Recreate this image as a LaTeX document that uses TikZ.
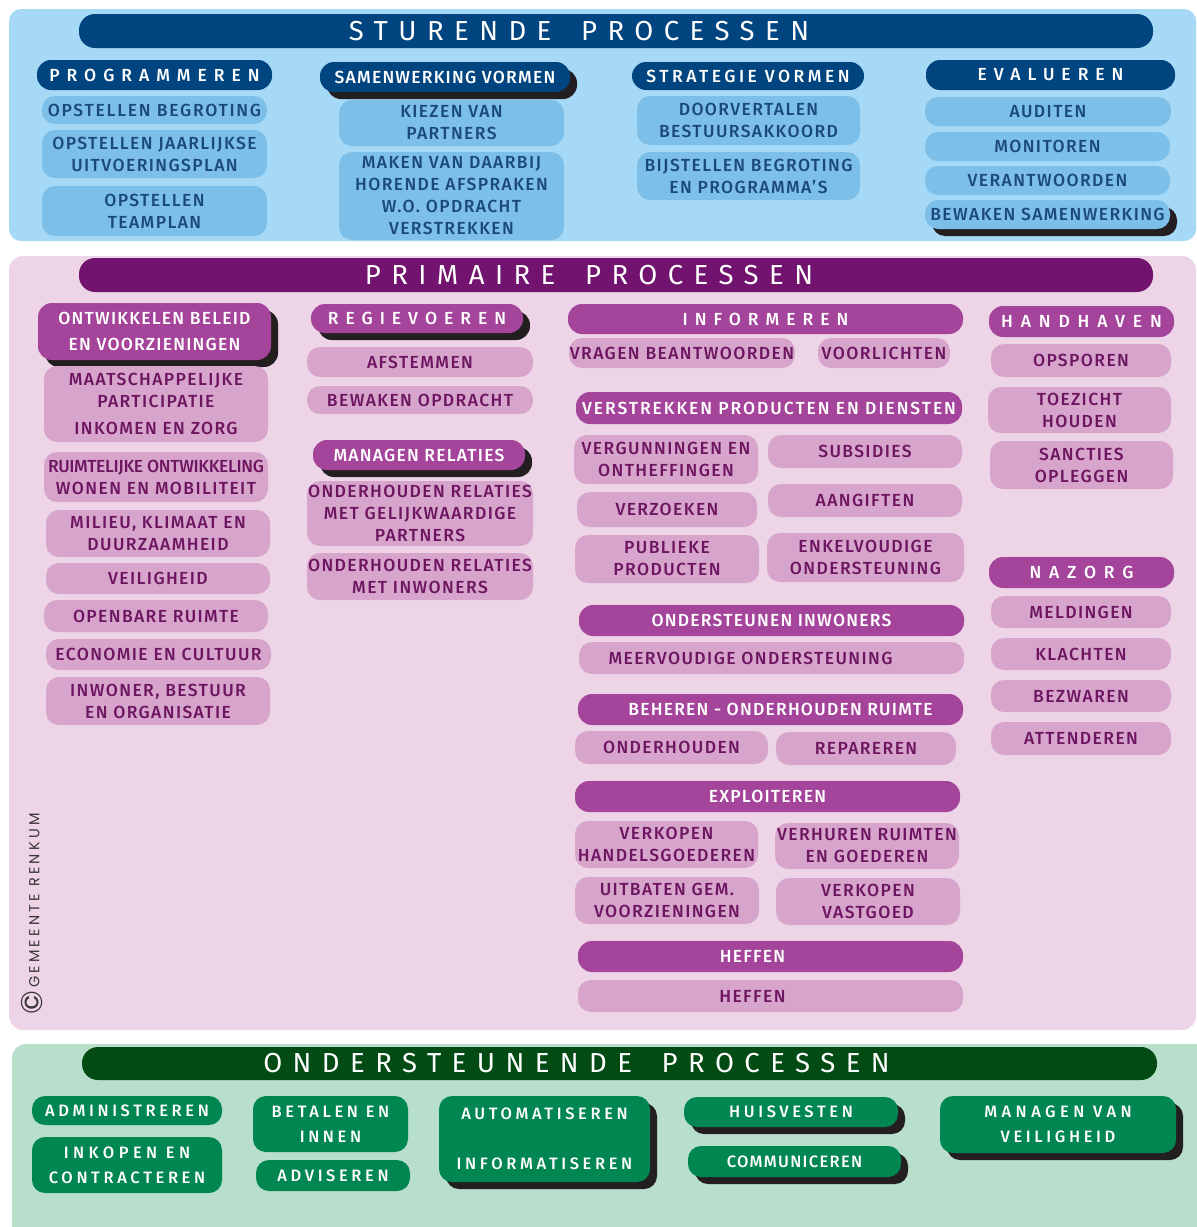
\documentclass[tikz,border=0pt]{standalone}
\usepackage{fontspec}
\usetikzlibrary{shadows}
\setmainfont{Fira Sans}
\newfontfamily\din{Fira Sans Medium}
\newfontfamily\dinlight{Fira Sans}
\newfontfamily\geo{Poppins}

\definecolor{bBg}{HTML}{A6D9F5}
\definecolor{bDark}{HTML}{00457F}
\definecolor{bItem}{HTML}{7CBFE8}
\definecolor{bText}{HTML}{1B4A78}
\definecolor{pBg}{HTML}{EDD4E6}
\definecolor{pDark}{HTML}{71136F}
\definecolor{pHead}{HTML}{A5449B}
\definecolor{pItem}{HTML}{D7A5CC}
\definecolor{pText}{HTML}{6D1561}
\definecolor{gBg}{HTML}{B7DFCB}
\definecolor{gDark}{HTML}{024B14}
\definecolor{gBox}{HTML}{008651}
\definecolor{shadowc}{HTML}{231F20}

% fonts: items, headers, section titles
\newcommand\fitem{\din\fontsize{17.5}{22}\selectfont\addfontfeature{LetterSpace=8}}
\newcommand\fhead{\din\fontsize{17.5}{26}\selectfont\addfontfeature{LetterSpace=7}}
\newcommand\fgreen{\din\fontsize{16.5}{25}\selectfont\addfontfeature{LetterSpace=22}}
\newcommand\ftitle{\dinlight\fontsize{27.5}{30}\selectfont\addfontfeature{LetterSpace=38}}
\newcommand\ls[1]{\addfontfeature{LetterSpace=#1}}

% box from corner (x1,y1) to (x2,y2): style, name, x1, y1, x2, y2, text
\newcommand\bx[7]{\node[#1, minimum width={#5-#3}, minimum height={#6-#4}] (#2) at ({(#3+#5)/2},{(#4+#6)/2}) {#7};}

\tikzset{
  box/.style={rounded corners=13pt, inner sep=0pt, align=center},
  shad/.style={drop shadow={shadow xshift=7pt, shadow yshift=-7pt, opacity=1, fill=shadowc}},
  btitle/.style={box, rounded corners=16pt, fill=bDark, text=white, font=\ftitle},
  bhead/.style={box, rounded corners=14pt, fill=bDark, text=white, font=\fhead},
  bitem/.style={box, fill=bItem, text=bText, font=\fitem},
  ptitle/.style={box, rounded corners=16pt, fill=pDark, text=white, font=\ftitle},
  phead/.style={box, rounded corners=14pt, fill=pHead, text=white, font=\fhead},
  pitem/.style={box, fill=pItem, text=pText, font=\fitem},
  gtitle/.style={box, rounded corners=16pt, fill=gDark, text=white, font=\ftitle},
  gbox/.style={box, fill=gBox, text=white, font=\fgreen},
}

\begin{document}
\begin{tikzpicture}[x=1pt,y=-1pt]
\clip (0,0) rectangle (1197,1227);
\fill[white] (0,0) rectangle (1197,1227);

% ---------------- sturende processen ----------------
\fill[bBg, rounded corners=12pt] (9,9) rectangle (1196,241);
\bx{btitle}{s-title}{79}{14}{1153}{48}{STURENDE\hspace{12pt} PROCESSEN\hspace{74pt}}

\bx{bhead}{s-prog}{37}{60}{272}{90}{\ls{40}PROGRAMMEREN}
\bx{bitem}{s-p1}{42}{96}{267}{124}{\ls{10}OPSTELLEN BEGROTING}
\bx{bitem}{s-p2}{42}{130}{267}{178}{OPSTELLEN JAARLIJKSE\\UITVOERINGSPLAN}
\bx{bitem}{s-p3}{42}{186}{267}{236}{OPSTELLEN\\TEAMPLAN}

\bx{bitem}{s-s1}{339}{100}{564}{146}{KIEZEN VAN\\PARTNERS}
\bx{bitem}{s-s2}{339}{152}{564}{240}{MAKEN VAN DAARBIJ\\HORENDE AFSPRAKEN\\W.O. OPDRACHT\\VERSTREKKEN}
\bx{bhead,shad}{s-samen}{320}{62}{570}{92}{SAMENWERKING VORMEN}

\bx{bhead}{s-strat}{632}{62}{864}{90}{\ls{20}STRATEGIE VORMEN}
\bx{bitem}{s-t1}{637}{96}{860}{145}{DOORVERTALEN\\BESTUURSAKKOORD}
\bx{bitem}{s-t2}{637}{152}{860}{200}{BIJSTELLEN BEGROTING\\EN PROGRAMMA’S}

\bx{bhead}{s-eval}{926}{60}{1175}{90}{\ls{40}EVALUEREN}
\bx{bitem}{s-e1}{925}{97}{1171}{126}{AUDITEN}
\bx{bitem}{s-e2}{925}{132}{1170}{161}{MONITOREN}
\bx{bitem}{s-e3}{925}{166}{1170}{195}{VERANTWOORDEN}
\bx{bitem,shad}{s-e4}{925}{200}{1170}{229}{BEWAKEN SAMENWERKING}

% ---------------- primaire processen ----------------
\fill[pBg, rounded corners=14pt] (9,256) rectangle (1196,1030);
\bx{ptitle}{p-title}{79}{258}{1153}{292}{PRIMAIRE\hspace{12pt} PROCESSEN\hspace{54pt}}

% beleid
\bx{phead,shad}{p-beleid}{38}{303}{271}{360}{ONTWIKKELEN BELEID\\EN VOORZIENINGEN}
\bx{pitem}{p-b1}{44}{366}{268}{442}{MAATSCHAPPELIJKE\\PARTICIPATIE\\[5pt]INKOMEN EN ZORG}
\bx{pitem}{p-b2}{44}{452}{268}{502}{\ls{-2}RUIMTELIJKE ONTWIKKELING\\\ls{8}WONEN EN MOBILITEIT}
\bx{pitem}{p-b3}{46}{510}{270}{557}{MILIEU, KLIMAAT EN\\DUURZAAMHEID}
\bx{pitem}{p-b4}{46}{563}{270}{594}{VEILIGHEID}
\bx{pitem}{p-b5}{44}{600}{268}{632}{OPENBARE RUIMTE}
\bx{pitem}{p-b6}{46}{639}{271}{670}{ECONOMIE EN CULTUUR}
\bx{pitem}{p-b7}{46}{677}{270}{725}{INWONER, BESTUUR\\EN ORGANISATIE}

% regie
\bx{phead,shad}{p-regie}{311}{304}{523}{333}{\ls{40}REGIEVOEREN}
\bx{pitem}{p-r1}{307}{347}{533}{377}{AFSTEMMEN}
\bx{pitem}{p-r2}{307}{386}{533}{414}{BEWAKEN OPDRACHT}
\bx{phead,shad}{p-relat}{313}{440}{525}{470}{MANAGEN RELATIES}
\bx{pitem}{p-m1}{307}{481}{533}{546}{ONDERHOUDEN RELATIES\\MET GELIJKWAARDIGE\\PARTNERS}
\bx{pitem}{p-m2}{307}{553}{533}{600}{ONDERHOUDEN RELATIES\\MET INWONERS}

% informeren en verstrekken
\bx{phead}{p-info}{568}{304}{963}{334}{\ls{40}INFORMEREN}
\bx{pitem}{p-i1}{569}{338}{795}{368}{VRAGEN BEANTWOORDEN}
\bx{pitem}{p-i2}{818}{338}{950}{368}{VOORLICHTEN}

\bx{phead}{p-verstr}{576}{392}{962}{424}{\ls{11}VERSTREKKEN PRODUCTEN EN DIENSTEN}
\bx{pitem}{p-v1}{574}{435}{758}{484}{VERGUNNINGEN EN\\ONTHEFFINGEN}
\bx{pitem}{p-v2}{768}{435}{962}{468}{SUBSIDIES}
\bx{pitem}{p-v3}{577}{492}{757}{527}{VERZOEKEN}
\bx{pitem}{p-v4}{768}{484}{962}{517}{AANGIFTEN}
\bx{pitem}{p-v5}{575}{535}{759}{583}{PUBLIEKE\\PRODUCTEN}
\bx{pitem}{p-v6}{767}{533}{964}{582}{ENKELVOUDIGE\\ONDERSTEUNING}

\bx{phead}{p-onder}{579}{605}{964}{636}{ONDERSTEUNEN INWONERS}
\bx{pitem}{p-o1}{579}{642}{964}{674}{MEERVOUDIGE ONDERSTEUNING\hspace{42pt}}

\bx{phead}{p-beheer}{578}{694}{963}{725}{\hspace{20pt}BEHEREN - ONDERHOUDEN RUIMTE}
\bx{pitem}{p-h1}{575}{731}{768}{764}{ONDERHOUDEN}
\bx{pitem}{p-h2}{776}{732}{956}{765}{REPAREREN}

\bx{phead}{p-expl}{575}{781}{960}{812}{EXPLOITEREN}
\bx{pitem}{p-x1}{575}{821}{758}{868}{VERKOPEN\\HANDELSGOEDEREN}
\bx{pitem}{p-x2}{775}{823}{959}{869}{VERHUREN RUIMTEN\\EN GOEDEREN}
\bx{pitem}{p-x3}{575}{877}{759}{924}{UITBATEN GEM.\\VOORZIENINGEN}
\bx{pitem}{p-x4}{776}{878}{960}{925}{VERKOPEN\\VASTGOED}

\bx{phead}{p-heff}{578}{941}{963}{972}{HEFFEN\hspace{36pt}}
\bx{pitem}{p-f1}{578}{980}{963}{1012}{HEFFEN\hspace{36pt}}

% handhaven en nazorg
\bx{phead}{p-handh}{989}{306}{1174}{337}{\ls{45}HANDHAVEN}
\bx{pitem}{p-n1}{991}{344}{1171}{377}{OPSPOREN}
\bx{pitem}{p-n2}{988}{387}{1171}{433}{TOEZICHT\\HOUDEN}
\bx{pitem}{p-n3}{990}{441}{1173}{489}{SANCTIES\\OPLEGGEN}

\bx{phead}{p-nazorg}{989}{557}{1174}{588}{\ls{45}NAZORG}
\bx{pitem}{p-z1}{991}{596}{1171}{628}{MELDINGEN}
\bx{pitem}{p-z2}{991}{638}{1171}{670}{KLACHTEN}
\bx{pitem}{p-z3}{991}{680}{1171}{712}{BEZWAREN}
\bx{pitem}{p-z4}{991}{722}{1171}{755}{ATTENDEREN}

\node[rotate=90, text=shadowc!90, font=\geo\fontsize{14.5}{16}\selectfont\addfontfeature{LetterSpace=22}] (copy) at (32,914) {{\fontsize{30}{30}\selectfont\addfontfeature{LetterSpace=0}\raisebox{-3pt}{©}}\hspace{3pt}GEMEENTE RENKUM};

% ---------------- ondersteunende processen ----------------
\fill[gBg, rounded corners=14pt] (12,1044) rectangle (1210,1260);
\bx{gtitle}{g-title}{82}{1047}{1157}{1080}{ONDERSTEUNENDE\hspace{12pt} PROCESSEN\hspace{86pt}}

\bx{gbox}{g-admin}{32}{1096}{222}{1125}{ADMINISTREREN}
\bx{gbox}{g-inkoop}{32}{1137}{222}{1193}{\ls{27}INKOPEN EN\\CONTRACTEREN}
\bx{gbox}{g-betaal}{253}{1096}{408}{1152}{BETALEN EN\\INNEN}
\bx{gbox}{g-advies}{256}{1160}{410}{1191}{ADVISEREN}
\bx{gbox,shad}{g-auto}{439}{1096}{650}{1182}{AUTOMATISEREN\\[25pt]INFORMATISEREN}
\bx{gbox,shad}{g-huis}{684}{1097}{898}{1127}{HUISVESTEN}
\bx{gbox,shad}{g-comm}{688}{1146}{901}{1177}{\ls{8}COMMUNICEREN}
\bx{gbox,shad}{g-veil}{940}{1096}{1176}{1153}{\ls{27}MANAGEN VAN\\VEILIGHEID}
\end{tikzpicture}
\end{document}
